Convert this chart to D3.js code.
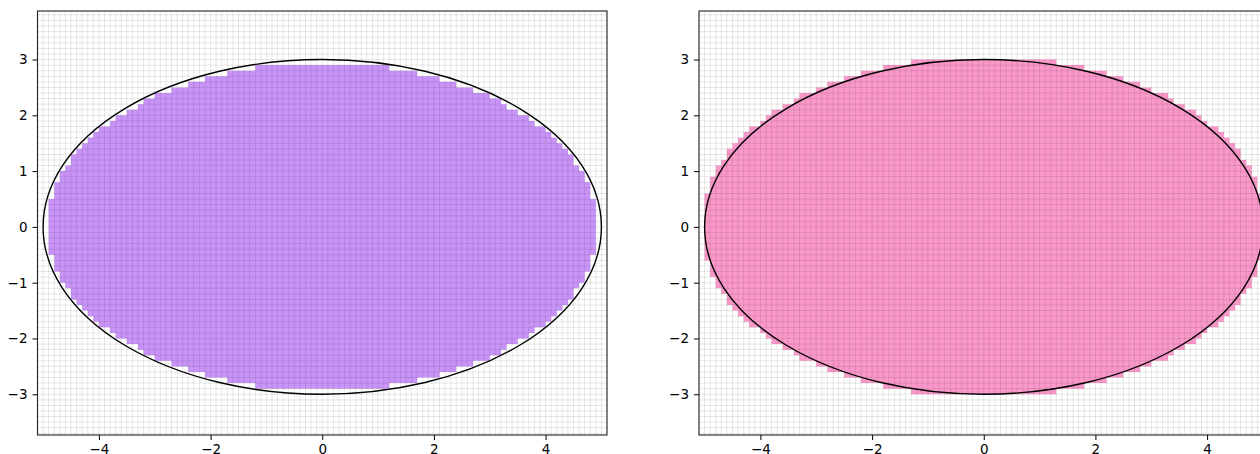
<!DOCTYPE html>
<html>
<head>
<meta charset="utf-8">
<script src="https://cdn.jsdelivr.net/npm/d3@7"></script>
<style>
  body { margin: 0; background: #fff; }
  svg { display: block; font-family: "DejaVu Sans", sans-serif; }
</style>
</head>
<body>
<svg id="chart" width="1260" height="454"></svg>
<script>
// axis setup
const xDomain = [-5.1, 5.1];
const yDomain = [-3.73, 3.87];
const xTicks = [-4, -2, 0, 2, 4];
const yTicks = [-3, -2, -1, 0, 1, 2, 3];
const cellSize = 0.1;
const ellipseRadii = [5, 3];

// filled cells per row (counted from the centre row outward), half-width in cells
// left: cells lying fully inside the ellipse
const innerHalfCells = [49, 49, 49, 49, 49, 48, 48, 48, 47, 47,
                        46, 45, 45, 44, 43, 42, 41, 40, 38, 37,
                        35, 33, 32, 30, 27, 24, 21, 17, 12, 0];
// right: cells touching the ellipse
const outerHalfCells = [50, 50, 50, 50, 50, 50, 49, 49, 49, 48,
                        48, 47, 46, 46, 45, 44, 43, 42, 40, 39,
                        38, 36, 34, 33, 30, 28, 25, 22, 18, 13];

const panels = [
    { left: 37.5, rows: innerHalfCells, fill: '#c994f8' },
    { left: 699, rows: outerHalfCells, fill: '#fa98c9' }
];
const plotWidth = 569.5;
const plotTop = 11;
const plotBottom = 435;

const svg = d3.select('#chart');

panels.forEach((p, i) => {
    var x = d3.scaleLinear().domain(xDomain).range([p.left, p.left + plotWidth]);
    var y = d3.scaleLinear().domain(yDomain).range([plotBottom, plotTop]);

    var g = svg.append('g');

    svg.append('clipPath')
        .attr('id', 'clip' + i)
        .append('rect')
        .attr('x', p.left)
        .attr('y', plotTop)
        .attr('width', plotWidth)
        .attr('height', plotBottom - plotTop);

    var inner = g.append('g').attr('clip-path', 'url(#clip' + i + ')');

    // filled cells, one path so rows don't show seams
    var path = d3.path();
    p.rows.forEach((n, k) => {
        if (n === 0) return;
        [[k * cellSize, (k + 1) * cellSize], [-(k + 1) * cellSize, -k * cellSize]].forEach(r => {
            var x0 = x(-n * cellSize), x1 = x(n * cellSize);
            var y0 = y(r[1]), y1 = y(r[0]);
            path.rect(x0, y0, x1 - x0, y1 - y0);
        });
    });
    inner.append('path')
        .attr('d', path.toString())
        .attr('fill', p.fill);

    // cell grid
    var gx = d3.range(Math.ceil(xDomain[0] / cellSize - 1e-9), Math.floor(xDomain[1] / cellSize + 1e-9) + 1)
        .map(j => j * cellSize);
    var gy = d3.range(Math.ceil(yDomain[0] / cellSize), Math.floor(yDomain[1] / cellSize) + 1)
        .map(j => j * cellSize);
    inner.append('g')
        .selectAll('line')
        .data(gx)
        .join('line')
        .attr('x1', d => x(d))
        .attr('x2', d => x(d))
        .attr('y1', plotTop)
        .attr('y2', plotBottom)
        .attr('stroke', 'rgba(0,0,0,0.12)')
        .attr('stroke-width', 0.8);
    inner.append('g')
        .selectAll('line')
        .data(gy)
        .join('line')
        .attr('x1', p.left)
        .attr('x2', p.left + plotWidth)
        .attr('y1', d => y(d))
        .attr('y2', d => y(d))
        .attr('stroke', 'rgba(0,0,0,0.12)')
        .attr('stroke-width', 0.8);

    // ellipse outline
    inner.append('ellipse')
        .attr('cx', x(0))
        .attr('cy', y(0))
        .attr('rx', x(ellipseRadii[0]) - x(0))
        .attr('ry', y(0) - y(ellipseRadii[1]))
        .attr('fill', 'none')
        .attr('stroke', '#000')
        .attr('stroke-width', 1.4);

    // frame
    g.append('rect')
        .attr('x', p.left)
        .attr('y', plotTop)
        .attr('width', plotWidth)
        .attr('height', plotBottom - plotTop)
        .attr('fill', 'none')
        .attr('stroke', '#222')
        .attr('stroke-width', 1.1);

    // axes
    var xAxis = d3.axisBottom(x).tickValues(xTicks).tickSize(5).tickPadding(4);
    var yAxis = d3.axisLeft(y).tickValues(yTicks).tickSize(5).tickPadding(5);

    var ax = g.append('g')
        .attr('transform', 'translate(0,' + plotBottom + ')')
        .call(xAxis);
    var ay = g.append('g')
        .attr('transform', 'translate(' + p.left + ',0)')
        .call(yAxis);

    [ax, ay].forEach(a => {
        a.select('.domain').remove();
        a.selectAll('.tick line').attr('stroke', '#000').attr('stroke-width', 1);
        a.selectAll('.tick text')
            .attr('fill', '#000')
            .style('font-family', '"DejaVu Sans", sans-serif')
            .style('font-size', '13.5px');
    });
});
</script>
</body>
</html>
